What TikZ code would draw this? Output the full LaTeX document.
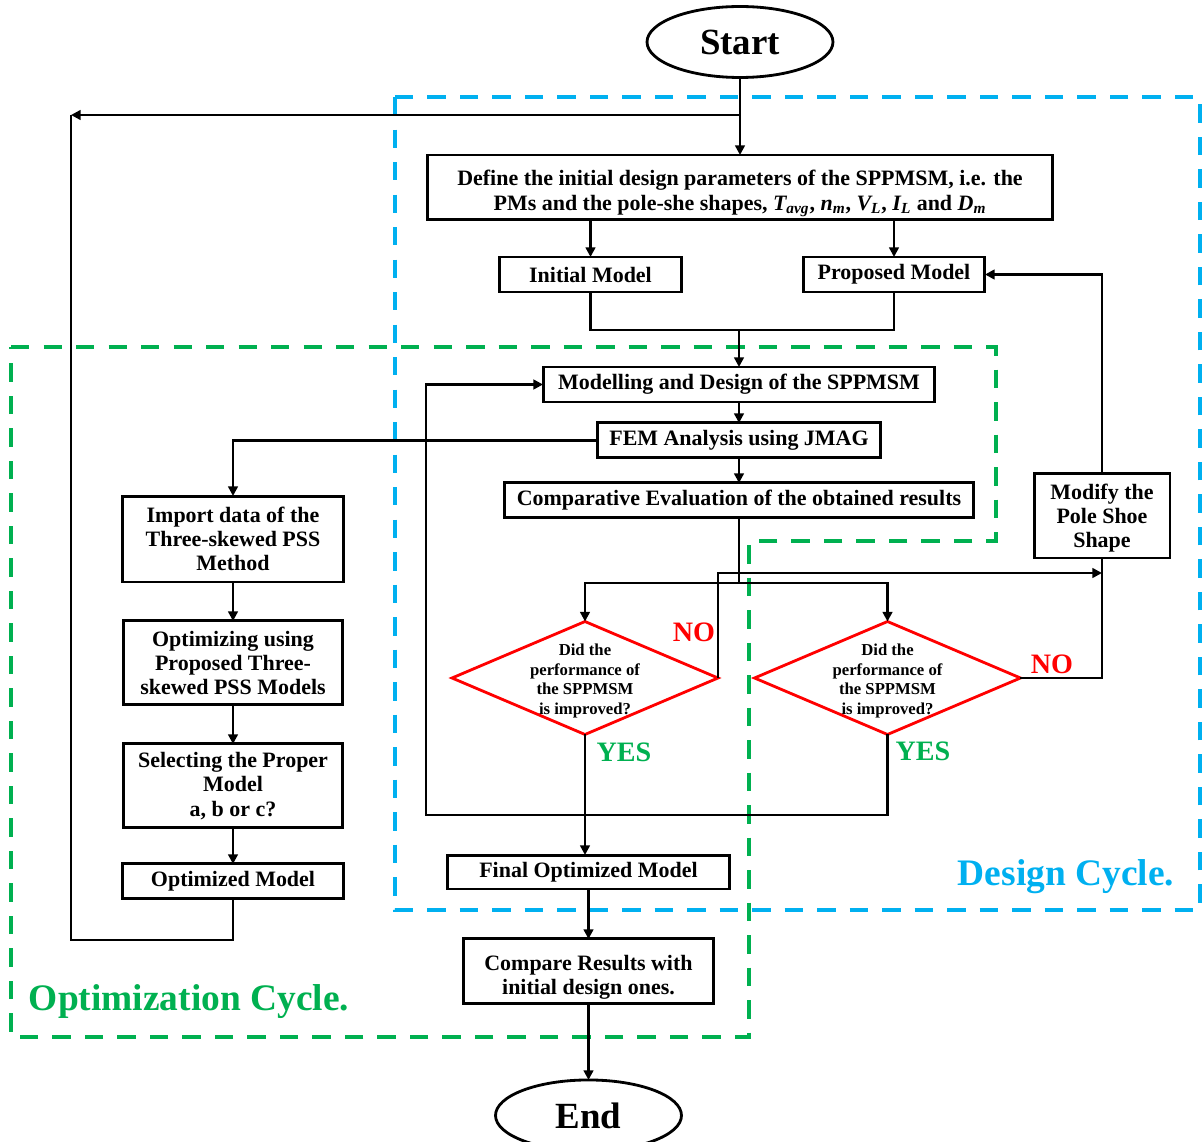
\documentclass[tikz,border=0pt]{standalone}
\usepackage{fontspec}
\setmainfont{Liberation Serif}
\usetikzlibrary{shapes.geometric,arrows.meta,positioning}
\definecolor{designblue}{RGB}{0,176,240}
\definecolor{optgreen}{RGB}{0,176,80}
\definecolor{nored}{RGB}{255,0,0}
\newcommand{\toppad}[1]{\rule{0pt}{#1}}

\begin{document}
\begin{tikzpicture}[x=0.02cm, y=0.02cm,
    block/.style={rectangle, draw, line width=1.7pt, fill=white, align=center, inner sep=1pt, outer sep=0pt, font=\bfseries\fontsize{12.5}{13.8}\selectfont},
    term/.style={ellipse, draw, line width=1.6pt, fill=white, outer sep=0pt, minimum width=3.72cm, minimum height=1.42cm, font=\bfseries\fontsize{21}{24}\selectfont},
    check/.style={diamond, draw=nored, line width=1.6pt, fill=white, minimum width=5.32cm, minimum height=2.26cm, inner sep=0pt, outer sep=0pt},
    qtext/.style={align=center, yshift=-1.7pt, font=\bfseries\fontsize{9.5}{11.3}\selectfont},
    nomark/.style={text=nored, font=\bfseries\fontsize{16}{18}\selectfont},
    yesmark/.style={text=optgreen, font=\bfseries\fontsize{16}{18}\selectfont},
    cyclename/.style={font=\bfseries\fontsize{21.3}{24}\selectfont},
    loopline/.style={dash pattern=on 10.5pt off 8pt, line width=2.3pt},
    link/.style={line width=1.6pt},
    arrow/.style={-{Triangle[length=5.5pt,width=5.5pt]}, line width=1.6pt}]

    \useasboundingbox (0,0) rectangle (1204,-1142);

    % the two cycles
    \draw[loopline, designblue] (395,-97) rectangle (1200,-910);
    \draw[loopline, optgreen] (11,-347) -- (996,-347) -- (996,-541) -- (749,-541) -- (749,-1037) -- (11,-1037) -- cycle;
    \node[cyclename, text=designblue] (designname) at (1066,-877) {Design Cycle.};
    \node[cyclename, text=optgreen] (optname) at (189,-1002) {Optimization Cycle.};

    % design cycle
    \node[term] (start) at (740,-42) {Start};
    \node[block, minimum width=12.52cm, minimum height=1.3cm] (define) at (740,-187.5)
        {\toppad{15.5pt}Define the initial design parameters of the SPPMSM, i.e. the\\
         PMs and the pole-she shapes, \textit{T\textsubscript{avg}}, \textit{n\textsubscript{m}}, \textit{V\textsubscript{L}}, \textit{I\textsubscript{L}} and \textit{D\textsubscript{m}}};
    \node[block, minimum width=3.66cm, minimum height=0.7cm] (initial) at (590.5,-274.5) {Initial Model};
    \node[block, minimum width=3.64cm, minimum height=0.7cm] (proposed) at (894,-274.5) {Proposed Model};
    \node[block, minimum width=7.84cm, minimum height=0.7cm] (modelling) at (739,-384.5) {Modelling and Design of the SPPMSM};
    \node[block, minimum width=5.66cm, minimum height=0.7cm, below=0.42cm of modelling] (fem) {FEM Analysis using JMAG};
    \node[block, minimum width=9.4cm, minimum height=0.7cm, below=0.5cm of fem] (evaluate) {Comparative Evaluation of the obtained results};
    \node[block, minimum width=2.72cm, minimum height=1.7cm] (modify) at (1102,-515.5) {\toppad{12pt}Modify the\\Pole Shoe\\Shape};
    \node[check, label={[qtext]center:Did the\\performance of\\the SPPMSM\\is improved?}] (ask1) at (585,-678) {};
    \node[check, label={[qtext]center:Did the\\performance of\\the SPPMSM\\is improved?}] (ask2) at (887.5,-678) {};
    \node[block, minimum width=5.66cm, minimum height=0.68cm] (final) at (588.5,-872) {Final Optimized Model};
    \node[block, minimum width=5cm, minimum height=1.3cm, below=1cm of final] (results) {\toppad{15.5pt}Compare Results with\\initial design ones.};
    \node[term, below=1.52cm of results] (end) {End};

    \node[nomark] (no1) at (694,-632) {NO};
    \node[nomark] (no2) at (1052,-664) {NO};
    \node[yesmark] (yes1) at (624,-752) {YES};
    \node[yesmark] (yes2) at (923,-751) {YES};

    % optimization cycle
    \node[block, minimum width=4.44cm, minimum height=1.72cm] (import) at (233,-539) {Import data of the\\Three-skewed PSS\\Method};
    \node[block, minimum width=4.4cm, minimum height=1.68cm, below=0.78cm of import] (optimizing) {Optimizing using\\Proposed Three-\\skewed PSS Models};
    \node[block, minimum width=4.38cm, minimum height=1.68cm, below=0.78cm of optimizing] (selecting) {Selecting the Proper\\Model\\a, b or c?};
    \node[block, minimum width=4.44cm, minimum height=0.7cm, below=0.72cm of selecting] (optimized) {Optimized Model};

    \coordinate (tap) at (740,-115);
    \coordinate (topleft) at (71,-115);
    \coordinate (botleft) at (71,-940);
    \coordinate (join) at (739,-330);
    \coordinate (split) at (739,-583);
    \coordinate (nojoin) at (1102,-573);
    \coordinate (backleft) at (426,-815);

    \draw[arrow] (start) -- (define);
    \draw[arrow] (tap) -- (topleft);
    \draw[link] (optimized.south) |- (botleft) -- (topleft);
    \draw[arrow] (initial.north |- define.south) -- (initial.north);
    \draw[arrow] (proposed.north |- define.south) -- (proposed.north);
    \draw[link] (initial.south) |- (join) -| (proposed.south);
    \draw[arrow] (join) -- (join |- modelling.north);
    \draw[arrow] (modelling.south) -- (modelling.south |- fem.north);
    \draw[arrow] (fem.south) -- (fem.south |- evaluate.north);
    \draw[arrow] (fem.west) -| (import.north);
    \draw[arrow] (import) -- (optimizing);
    \draw[arrow] (optimizing) -- (selecting);
    \draw[arrow] (selecting) -- (optimized);
    \draw[link] (evaluate.south) -- (evaluate.south |- split);
    \draw[arrow] (split) -| (ask1.north);
    \draw[arrow] (split) -| (ask2.north);
    \draw[arrow] (ask1.east) |- (nojoin);
    \draw[link] (ask2.east) -| (modify.south);
    \draw[arrow] (modify.north) |- (proposed.east);
    \draw[arrow] (ask1.south) -- (ask1.south |- final.north);
    \draw[arrow] (ask2.south) |- (backleft) |- (modelling.west);
    \draw[arrow] (final) -- (results);
    \draw[arrow] (results) -- (end);
\end{tikzpicture}
\end{document}
